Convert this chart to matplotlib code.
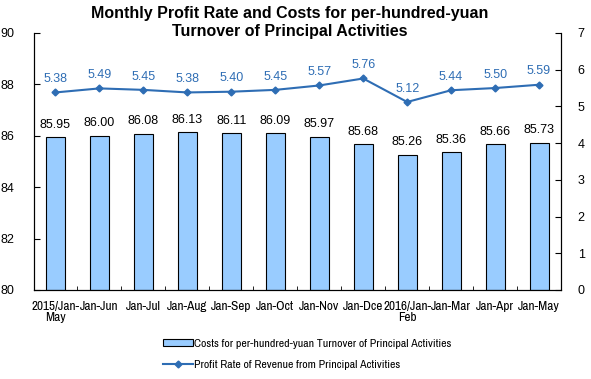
import matplotlib.pyplot as plt
from matplotlib import font_manager

plt.rcParams['font.family'] = ['Liberation Sans', 'DejaVu Sans']

months = ['2015/Jan-\nMay', 'Jan-Jun', 'Jan-Jul', 'Jan-Aug', 'Jan-Sep', 'Jan-Oct',
          'Jan-Nov', 'Jan-Dce', '2016/Jan-\nFeb', 'Jan-Mar', 'Jan-Apr', 'Jan-May']
costs = [85.95, 86.00, 86.08, 86.13, 86.11, 86.09, 85.97, 85.68, 85.26, 85.36, 85.66, 85.73]
profit = [5.38, 5.49, 5.45, 5.38, 5.40, 5.45, 5.57, 5.76, 5.12, 5.44, 5.50, 5.59]

narrow = 'Archivo Narrow'
names = {f.name for f in font_manager.fontManager.ttflist}
if narrow not in names:
    narrow = 'Liberation Sans'

fig = plt.figure(figsize=(5.91, 3.79), dpi=100)
ax = fig.add_axes([0.0567, 0.235, 0.8926, 0.678])
ax2 = ax.twinx()

x = list(range(len(months)))
bars = ax.bar(x, [c - 80 for c in costs], bottom=80, width=0.43, color='#99CCFF',
              edgecolor='black', linewidth=0.8,
              label='Costs for per-hundred-yuan Turnover of Principal Activities')
for xi, c in zip(x, costs):
    ax.text(xi, c + 0.25, f'{c:.2f}', ha='center', va='bottom', fontsize=9, color='black')

line, = ax2.plot(x, profit, color='#2E6DB4', linewidth=1.5, marker='D', markersize=3.5,
                 label='Profit Rate of Revenue from Principal Activities')
for xi, p in zip(x, profit):
    ax2.text(xi, p + 0.2, f'{p:.2f}', ha='center', va='bottom', fontsize=9, color='#2E6DB4')

ax.set_xlim(-0.5, len(months) - 0.5)
ax.set_ylim(80, 90)
ax.set_yticks(range(80, 91, 2))
ax2.set_ylim(0, 7)
ax2.set_yticks(range(0, 8))

ax.set_xticks(x)
ax.set_xticklabels(months, fontsize=9.5, family=narrow, linespacing=1.05)
ax.set_xticks([i + 0.5 for i in x[:-1]], minor=True)
ax.tick_params(axis='x', which='major', length=0, pad=8)
ax.tick_params(axis='x', which='minor', direction='in', length=3)
ax.tick_params(axis='y', direction='in', length=4, labelsize=9, pad=14)
ax2.tick_params(axis='y', direction='in', length=4, labelsize=9, pad=12)

for a in (ax, ax2):
    a.spines['top'].set_visible(False)
    for s in ('left', 'right', 'bottom'):
        a.spines[s].set_linewidth(0.8)

fig.suptitle('Monthly Profit Rate and Costs for per-hundred-yuan\nTurnover of Principal Activities',
             fontsize=11.5, fontweight='bold', x=0.49, y=0.985, linespacing=1.3)

fig.legend([bars, line], [bars.get_label(), line.get_label()], loc='upper left',
           bbox_to_anchor=(0.268, 0.118), frameon=False, ncol=1,
           prop={'family': narrow, 'size': 8.5}, handlelength=2.5, handleheight=0.5,
           handletextpad=0.1, labelspacing=0.95, borderaxespad=0)

fig.savefig('out.png', dpi=100)
